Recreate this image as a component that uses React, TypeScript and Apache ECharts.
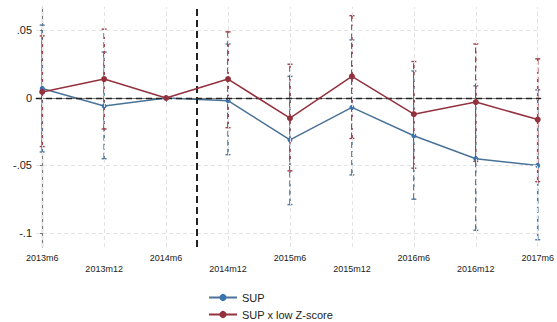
import React, { useEffect, useRef } from "react";
import * as echarts from "echarts";

const categories = ["2013m6", "2013m12", "2014m6", "2014m12", "2015m6", "2015m12", "2016m6", "2016m12", "2017m6"];
const supCoef = [0.007, -0.006, 0, -0.002, -0.031, -0.007, -0.028, -0.045, -0.05];
const supLow = [-0.04, -0.045, null, -0.042, -0.079, -0.057, -0.075, -0.098, -0.105];
const supHigh = [0.054, 0.034, null, 0.04, 0.016, 0.043, 0.02, 0.009, 0.006];
const zCoef = [0.0045, 0.014, 0, 0.014, -0.015, 0.016, -0.012, -0.003, -0.016];
const zLow = [-0.036, -0.023, null, -0.022, -0.054, -0.03, -0.052, -0.047, -0.062];
const zHigh = [0.046, 0.051, null, 0.049, 0.025, 0.061, 0.027, 0.04, 0.029];
const yTicks = [-0.1, -0.05, 0, 0.05];
const yTickLabels = ["-.1", "-.05", "0", ".05"];
const eventLine = 2.5;

const BLUE = "#3b74ae";
const BLUE_BAR = "#55799c";
const RED = "#93323e";
const RED_BAR = "#a2404b";
const FONT = "Liberation Sans";

function errBars(name: string, lows: (number | null)[], highs: (number | null)[], color: string, z: number) {
  const data = categories
    .map((_, i) => (lows[i] == null ? null : [i, lows[i], highs[i]]))
    .filter((d) => d != null);
  return {
    type: "custom",
    name,
    z,
    silent: true,
    encode: { x: 0, y: [1, 2] },
    data,
    renderItem: (params: any, api: any) => {
      const x = api.value(0);
      const lo = api.coord([x, api.value(1)]);
      const hi = api.coord([x, api.value(2)]);
      const cw = 2.5;
      return {
        type: "group",
        children: [
          { type: "line", shape: { x1: lo[0], y1: lo[1], x2: hi[0], y2: hi[1] }, style: { stroke: color, lineWidth: 1.6, lineDash: [6, 3] } },
          { type: "line", shape: { x1: hi[0] - cw, y1: hi[1], x2: hi[0] + cw, y2: hi[1] }, style: { stroke: color, lineWidth: 1.4 } },
          { type: "line", shape: { x1: lo[0] - cw, y1: lo[1], x2: lo[0] + cw, y2: lo[1] }, style: { stroke: color, lineWidth: 1.4 } },
        ],
      };
    },
  };
}

export default function App() {
  const ref = useRef<HTMLDivElement>(null);
  useEffect(() => {
    if (!ref.current) return;
    const chart = echarts.init(ref.current, null, { renderer: "svg" });
    const gridLineStyle = { color: "#e3e3e3", type: [4, 3], width: 1 };
    const option: any = {
      animation: false,
      backgroundColor: "#ffffff",
      textStyle: { fontFamily: FONT },
      grid: { left: 36, right: 13, top: 7, bottom: 75, containLabel: false },
      xAxis: {
        type: "value",
        min: -0.1,
        max: 8.05,
        axisLine: { show: true, lineStyle: { color: "#7a7a7a", width: 1.2 } },
        axisTick: { show: true, customValues: categories.map((_, i) => i), length: 4, lineStyle: { color: "#7a7a7a" } },
        axisLabel: {
          customValues: categories.map((_, i) => i),
          formatter: (v: number) => {
            const i = Math.round(v);
            return i % 2 === 1 ? "\n" + categories[i] : categories[i];
          },
          fontSize: 9,
          lineHeight: 11,
          color: "#222",
          margin: 5,
          fontFamily: FONT,
        },
        splitLine: { show: false },
      },
      yAxis: {
        type: "value",
        min: -0.1104,
        max: 0.0674,
        axisLine: { show: true, lineStyle: { color: "#7a7a7a", width: 1.2 } },
        axisTick: { show: true, customValues: yTicks, length: 4, lineStyle: { color: "#7a7a7a" } },
        axisLabel: {
          customValues: yTicks,
          formatter: (v: number) => {
            const k = yTicks.findIndex((t) => Math.abs(t - v) < 1e-9);
            return k >= 0 ? yTickLabels[k] : "";
          },
          fontSize: 11,
          color: "#222",
          margin: 4,
          fontFamily: FONT,
        },
        splitLine: { show: false },
      },
      legend: {
        data: ["SUP", "SUP x low Z-score"],
        orient: "vertical",
        left: 208,
        top: 292,
        height: 40,
        padding: 0,
        itemWidth: 28,
        itemHeight: 9,
        itemGap: 6,
        textStyle: { fontSize: 11, color: "#222", fontFamily: FONT },
      },
      series: [
        {
          type: "line",
          name: "grid",
          data: [],
          z: 0,
          silent: true,
          markLine: {
            silent: true,
            symbol: "none",
            label: { show: false },
            data: [
              ...categories.map((_, i) => ({ xAxis: i, lineStyle: gridLineStyle })),
              ...yTicks.filter((t) => t !== 0).map((t) => ({ yAxis: t, lineStyle: gridLineStyle })),
              { yAxis: 0, lineStyle: { color: "#222", type: [6, 4], width: 1.3 } },
              { xAxis: eventLine, lineStyle: { color: "#222", type: [7, 4], width: 2 } },
            ],
          },
        },
        errBars("SUP ci", supLow, supHigh, BLUE_BAR, 2),
        errBars("SUP x low Z-score ci", zLow, zHigh, RED_BAR, 3),
        {
          type: "line",
          name: "SUP",
          z: 4,
          data: supCoef.map((v, i) => [i, v]),
          symbol: "circle",
          symbolSize: 5,
          itemStyle: { color: BLUE },
          lineStyle: { color: "#4a7298", width: 1.5 },
        },
        {
          type: "line",
          name: "SUP x low Z-score",
          z: 5,
          data: zCoef.map((v, i) => [i, v]),
          symbol: "circle",
          symbolSize: 6,
          itemStyle: { color: RED },
          lineStyle: { color: RED, width: 1.5 },
        },
      ],
    };
    chart.setOption(option);
    return () => chart.dispose();
  }, []);
  return <div ref={ref} style={{ position: "fixed", left: 0, top: 0, width: 557, height: 322 }} />;
}
